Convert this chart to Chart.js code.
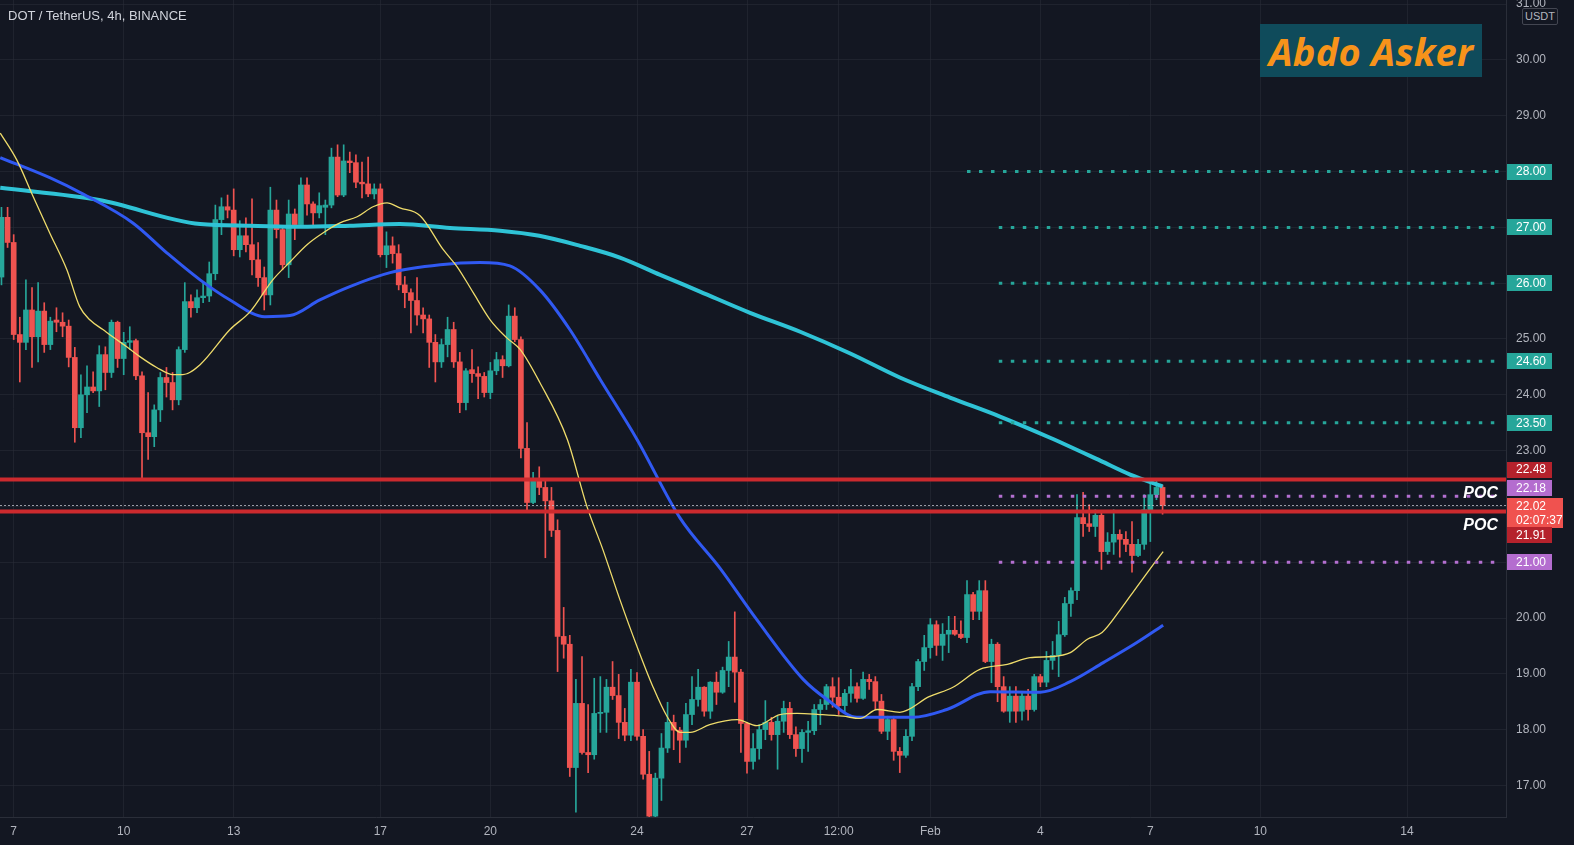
<!DOCTYPE html>
<html><head><meta charset="utf-8">
<script src="https://cdn.jsdelivr.net/npm/chart.js@4.4.0/dist/chart.umd.min.js"></script>
<style>
html,body{margin:0;padding:0;background:#131722;overflow:hidden;}
#wrap{position:relative;width:1574px;height:845px;}
canvas{display:block;}
#title{position:absolute;left:8px;top:8px;font:13px "Liberation Sans",Arial,sans-serif;color:#d1d4dc;white-space:nowrap;}
#logo{position:absolute;left:1260px;top:24px;width:222px;height:53px;background:#0f4b5b;color:#f7931a;font:italic 700 38px "Open Sans",sans-serif;display:flex;align-items:center;justify-content:center;white-space:nowrap;letter-spacing:0.3px;}
#usdt{position:absolute;left:1522px;top:8px;width:34px;height:15px;border:1px solid #434651;background:#131722;color:#b2b5be;font:11px "Liberation Sans",Arial,sans-serif;line-height:15px;text-align:center;border-radius:2px;}
</style></head>
<body>
<div id="wrap">
<canvas id="c" width="1574" height="845"></canvas>
<div id="title">DOT / TetherUS, 4h, BINANCE</div>
<div id="logo">Abdo Asker</div>
<div id="usdt">USDT</div>
</div>
<script>
// ---- data (candle index 0 = Jan 7 00:00, one candle = 4h) ----
const startIdx = -2;
const opens = [26.11,27.18,26.73,25.08,24.94,25.52,25.04,25.50,24.90,25.34,25.30,25.23,24.67,23.41,24.00,24.14,24.07,24.72,24.40,25.30,24.65,24.94,24.97,24.34,23.32,23.25,23.73,24.31,24.22,23.91,24.81,25.67,25.56,25.74,25.77,26.17,27.14,27.37,27.31,26.60,26.85,26.69,26.42,26.10,25.79,27.31,26.96,26.33,27.24,27.05,27.76,27.42,27.26,27.36,27.40,28.26,27.58,28.19,28.16,27.81,27.78,27.60,27.69,26.51,26.67,26.53,25.97,25.83,25.69,25.43,25.36,24.94,24.59,24.90,25.17,24.59,23.86,24.45,24.38,24.33,24.04,24.43,24.63,24.52,25.41,24.99,23.04,22.07,22.50,22.34,22.10,21.57,19.67,19.53,17.32,18.47,17.59,17.55,18.29,18.31,18.76,18.61,18.13,17.90,18.85,17.88,17.20,16.45,17.13,17.67,18.13,17.99,17.81,18.27,18.54,18.76,18.33,18.85,18.67,19.06,19.30,19.03,18.11,17.43,17.66,18.00,18.13,17.91,18.15,18.38,17.91,17.66,17.95,17.98,18.36,18.45,18.77,18.58,18.43,18.65,18.77,18.56,18.90,18.86,18.51,17.97,18.18,17.61,17.54,17.88,18.77,19.22,19.47,19.88,19.51,19.71,19.78,19.71,19.65,20.42,20.12,20.49,19.22,19.53,18.77,18.33,18.60,18.33,18.60,18.36,18.95,18.85,19.24,19.33,19.70,20.26,20.49,21.80,21.69,21.64,21.84,21.19,21.36,21.50,21.41,21.32,21.12,21.32,21.94,22.21,22.34];
const highs = [27.36,27.36,26.87,25.39,26.06,25.92,26.01,25.65,25.39,25.56,25.47,25.34,24.85,24.36,24.52,24.41,24.88,24.86,25.34,25.32,25.12,25.22,25.00,24.41,24.04,23.82,24.40,24.49,24.40,24.86,26.01,25.79,25.88,26.01,26.38,27.40,27.53,27.58,27.69,27.12,27.17,27.51,26.73,26.29,27.72,27.49,27.00,27.49,27.33,27.89,27.89,27.46,27.62,27.49,28.42,28.48,28.48,28.35,28.30,28.17,28.26,27.78,27.78,26.92,26.83,26.69,26.12,25.90,26.10,25.56,25.43,25.08,25.00,25.39,25.30,24.76,24.47,24.81,24.50,24.40,24.58,24.76,24.70,25.61,25.56,25.04,23.50,22.61,22.71,22.50,22.34,21.76,20.19,19.69,18.90,19.31,18.45,18.92,18.95,18.90,19.22,18.99,18.38,19.08,19.02,18.00,17.61,17.22,17.93,18.49,18.26,18.04,18.47,18.95,19.08,18.77,18.86,19.03,19.12,19.58,20.11,19.08,18.13,17.93,18.09,18.52,18.22,18.24,18.51,18.49,18.05,18.00,18.15,18.45,18.54,18.81,18.93,18.93,18.72,19.08,18.84,19.03,18.99,18.95,18.63,18.24,18.24,17.68,18.00,18.83,19.26,19.69,19.99,19.95,19.90,20.03,20.03,19.95,20.67,20.46,20.67,20.67,19.62,19.56,18.95,18.77,18.77,18.67,18.72,18.99,18.99,19.40,19.58,19.94,20.37,20.54,22.21,22.25,22.03,21.94,21.91,21.53,21.94,21.58,21.55,21.73,21.41,22.21,22.45,22.46,22.38];
const lows = [25.97,26.64,24.99,24.23,24.81,24.49,24.59,24.76,24.81,25.13,25.04,24.50,23.15,23.23,23.68,24.04,23.79,24.09,24.31,24.49,24.36,24.81,24.27,22.46,22.84,23.07,23.52,23.96,23.73,23.82,24.76,25.39,25.47,25.65,25.67,26.06,26.87,27.17,26.49,26.47,26.56,26.15,25.94,25.52,25.61,26.81,26.24,26.10,26.78,27.01,27.22,27.05,27.17,26.87,27.35,27.55,27.55,27.98,27.71,27.53,27.55,27.51,26.47,26.28,26.36,25.88,25.56,25.11,25.25,25.11,24.49,24.23,24.49,24.68,24.49,23.68,23.73,24.22,23.93,23.96,23.93,24.36,24.31,24.50,24.95,22.87,21.89,22.05,22.21,21.08,21.46,19.04,19.28,17.16,16.52,17.56,17.23,17.47,17.95,17.95,18.54,17.84,17.80,17.80,17.81,17.11,16.43,16.43,16.73,17.59,17.64,17.41,17.68,18.09,18.42,18.24,18.20,18.45,18.65,18.77,18.49,17.59,17.22,17.29,17.47,17.82,17.81,17.29,17.95,17.84,17.52,17.41,17.61,17.91,18.09,18.36,18.40,18.27,18.31,18.49,18.49,18.54,18.72,18.36,17.93,17.82,17.45,17.23,17.50,17.80,18.70,19.06,19.28,19.33,19.24,19.38,19.69,19.63,19.56,19.97,19.97,19.20,18.84,18.50,18.31,18.13,18.13,18.17,18.17,18.33,18.77,18.77,19.08,18.95,19.67,20.03,20.33,21.46,21.55,21.46,20.87,21.14,21.14,21.09,21.19,20.82,21.10,21.23,21.37,22.12,21.86];
const closes = [27.18,26.73,25.08,24.94,25.52,25.04,25.50,24.90,25.32,25.30,25.23,24.67,23.41,24.00,24.14,24.07,24.72,24.40,25.30,24.65,24.94,24.97,24.34,23.32,23.25,23.73,24.31,24.22,23.91,24.81,25.67,25.56,25.74,25.77,26.17,27.14,27.37,27.31,26.60,26.85,26.69,26.42,26.10,25.79,27.31,26.96,26.33,27.24,27.05,27.76,27.42,27.26,27.39,27.40,28.26,27.58,28.19,28.16,27.81,27.78,27.60,27.69,26.51,26.67,26.53,25.97,25.83,25.69,25.43,25.36,24.94,24.59,24.90,25.17,24.59,23.86,24.43,24.38,24.33,24.04,24.43,24.63,24.52,25.41,24.99,23.04,22.07,22.50,22.34,22.10,21.57,19.67,19.53,17.32,18.47,17.59,17.55,18.29,18.31,18.76,18.61,18.13,17.90,18.85,17.88,17.20,16.45,17.13,17.67,18.13,17.99,17.81,18.27,18.54,18.76,18.33,18.85,18.67,19.06,19.30,19.03,18.11,17.43,17.66,18.00,18.13,17.91,18.15,18.38,17.91,17.66,17.95,17.98,18.36,18.45,18.77,18.58,18.43,18.65,18.77,18.56,18.90,18.86,18.51,17.97,18.18,17.61,17.54,17.88,18.77,19.22,19.47,19.88,19.51,19.71,19.78,19.71,19.65,20.42,20.12,20.49,19.22,19.53,18.77,18.33,18.60,18.33,18.60,18.36,18.95,18.85,19.24,19.33,19.70,20.26,20.49,21.80,21.69,21.64,21.84,21.19,21.36,21.50,21.41,21.32,21.12,21.32,21.94,22.21,22.34,22.02];

// moving averages (candle index, price)
const maSlowX = [-2.2,14,30.5,38.7,46.9,55,63.2,71.4,79.6,86,92.7,99.2,105.8,112.3,120.5,128.7,136.9,145,153.2,161.4,169.6,177.8,182.7,188];
const maSlowY = [27.71,27.49,27.06,27.03,27.01,27.03,27.06,26.99,26.94,26.85,26.67,26.46,26.15,25.85,25.47,25.13,24.74,24.31,23.95,23.61,23.23,22.82,22.57,22.36];
const maMidX = [-2.2,5.9,11.3,19.5,25.1,30.5,35.4,41.1,45.2,50.1,55,61.6,69.8,76.3,81.2,86.1,91,96,102,109,115.6,121.6,129.2,133.1,138,147.2,152.7,159.8,168,172.9,178.3,183.8,188.1];
const maMidY = [28.25,27.89,27.60,27.08,26.54,26.06,25.70,25.40,25.42,25.70,25.94,26.19,26.33,26.37,26.31,25.88,25.17,24.27,23.20,21.80,20.89,19.97,18.90,18.54,18.22,18.22,18.36,18.68,18.67,18.86,19.20,19.56,19.87];
const maFastX = [-2.2,0.5,3.2,5.9,8.7,10.8,12.5,14.6,16.2,18.5,20.7,23.4,26.1,27.7,30.5,35.4,38.7,42.4,45.2,48,50.6,53.4,56.2,58.8,61.1,63.2,66.5,70.3,72.6,75.2,78,80.7,82.9,86.1,90.6,93.8,96.4,99.2,102,104.6,106.9,109.1,110.7,113.9,118.4,121.6,125.4,128.2,131.9,135.7,138.5,141.3,145,149.8,153.7,158.1,162.6,166.3,170.1,172.9,175.7,178.1,181.1,183.8,186.5,188.1];
const maFastY = [28.69,28.21,27.55,26.90,26.24,25.58,25.34,25.17,25.04,24.86,24.68,24.49,24.36,24.36,24.54,25.17,25.49,26.06,26.38,26.69,26.90,27.08,27.19,27.37,27.44,27.35,27.21,26.60,26.29,25.83,25.34,25.02,24.81,24.22,23.20,22.00,21.23,20.33,19.49,18.77,18.24,17.95,17.95,18.09,18.18,18.07,18.27,18.29,18.27,18.24,18.20,18.36,18.31,18.59,18.76,19.08,19.17,19.29,19.31,19.38,19.62,19.74,20.15,20.56,20.96,21.19];

// horizontal levels
const redLevels = [22.48, 21.91];
const tealLevels = [28.00, 27.00, 26.00, 24.60, 23.50];
const tealStart = [156, 161.2, 161.2, 161.2, 161.2];
const pocLevels = [22.18, 21.00];
const pocStart = [161.2, 161.2];
const lastPrice = 22.02;
const countdown = '02:07:37';

// axis ticks
const xTickVals = [0,18,36,60,78,102,120,135,150,168,186,204,228];
const xTickText = ['7','10','13','17','20','24','27','12:00','Feb','4','7','10','14'];
const yTickVals = [17,18,19,20,21,22,23,24,25,26,27,28,29,30,31];

// ---- build ----
const GREEN = '#26a69a', RED = '#ef5350';
const idx = opens.map((_, k) => startIdx + k);
const up = idx.map((_, k) => closes[k] >= opens[k]);
const candleCol = up.map(u => u ? GREEN : RED);
const wickData = idx.map((x, k) => ({x: x, y: [lows[k], highs[k]]}));
const bodyData = idx.map((x, k) => ({x: x, y: [opens[k], closes[k]]}));
const pts = (xs, ys) => xs.map((x, k) => ({x: x, y: ys[k]}));

const FONT = '"Liberation Sans", Arial, sans-serif';
const GRID = 'rgba(42,46,57,0.55)';

const overlay = {
  id: 'overlay',
  beforeDraw(chart) {
    const c = chart.ctx;
    c.save(); c.fillStyle = '#131722'; c.fillRect(0, 0, chart.width, chart.height); c.restore();
  },
  afterDatasetsDraw(chart) {
    const c = chart.ctx, xs = chart.scales.x, ys = chart.scales.y, a = chart.chartArea;
    c.save();
    c.beginPath(); c.rect(a.left, a.top, a.right - a.left, a.bottom - a.top); c.clip();
    // current price dotted line
    c.strokeStyle = 'rgba(200,202,210,0.75)'; c.lineWidth = 1; c.setLineDash([2, 2]);
    let yy = Math.round(ys.getPixelForValue(lastPrice)) + 0.5;
    c.beginPath(); c.moveTo(a.left, yy); c.lineTo(a.right, yy); c.stroke();
    // red levels
    c.setLineDash([]); c.strokeStyle = '#cc2a2e'; c.lineWidth = 4;
    redLevels.forEach(v => { const y = ys.getPixelForValue(v); c.beginPath(); c.moveTo(a.left, y); c.lineTo(a.right, y); c.stroke(); });
    // teal dotted levels
    c.lineWidth = 3; c.setLineDash([3.5, 8.5]); c.strokeStyle = '#26a69a';
    tealLevels.forEach((v, k) => { const y = ys.getPixelForValue(v); c.beginPath(); c.moveTo(xs.getPixelForValue(tealStart[k]), y); c.lineTo(a.right - 6, y); c.stroke(); });
    c.strokeStyle = '#b36fd0';
    pocLevels.forEach((v, k) => { const y = ys.getPixelForValue(v); c.beginPath(); c.moveTo(xs.getPixelForValue(pocStart[k]), y); c.lineTo(a.right - 6, y); c.stroke(); });
    c.setLineDash([]);
    // POC texts
    c.fillStyle = '#ffffff'; c.font = 'italic bold 16px ' + FONT; c.textAlign = 'right'; c.textBaseline = 'alphabetic';
    c.fillText('POC', a.right - 8, ys.getPixelForValue(pocLevels[0]) + 2);
    c.fillText('POC', a.right - 8, ys.getPixelForValue(redLevels[1]) + 19);
    c.restore();
  },
  afterDraw(chart) {
    const c = chart.ctx, ys = chart.scales.y, a = chart.chartArea;
    const boxes = [];
    tealLevels.forEach(v => boxes.push({v: v, bg: '#26a69a', dy: 0}));
    boxes.push({v: redLevels[0], bg: '#b5222c', dy: -10});
    boxes.push({v: pocLevels[0], bg: '#b46dcf', dy: -8});
    boxes.push({v: lastPrice, bg: '#f0524f', dy: 8, sub: countdown});
    boxes.push({v: redLevels[1], bg: '#b5222c', dy: 24});
    boxes.push({v: pocLevels[1], bg: '#b46dcf', dy: 0});
    c.save();
    c.font = '12px ' + FONT; c.textBaseline = 'middle'; c.textAlign = 'left';
    boxes.forEach(b => {
      const cy = ys.getPixelForValue(b.v) + b.dy;
      const h = b.sub ? 30 : 16, w = b.sub ? 56 : 45;
      c.fillStyle = b.bg;
      c.fillRect(a.right + 1, Math.round(cy - h / 2), w, h);
      c.fillStyle = '#ffffff';
      if (b.sub) {
        c.fillText(b.v.toFixed(2), a.right + 10, cy - 7);
        c.fillText(b.sub, a.right + 10, cy + 7);
      } else {
        c.fillText(b.v.toFixed(2), a.right + 10, cy + 0.5);
      }
    });
    c.restore();
  }
};

new Chart(document.getElementById('c'), {
  type: 'bar',
  data: {
    datasets: [
      {type: 'line', data: pts(maFastX, maFastY), borderColor: '#efdc6b', borderWidth: 1.3, pointRadius: 0, cubicInterpolationMode: 'monotone', order: 0},
      {type: 'line', data: pts(maMidX, maMidY), borderColor: '#3059f2', borderWidth: 3, pointRadius: 0, cubicInterpolationMode: 'monotone', order: 0},
      {type: 'line', data: pts(maSlowX, maSlowY), borderColor: '#2fc3d6', borderWidth: 4, pointRadius: 0, cubicInterpolationMode: 'monotone', order: 0},
      {data: bodyData, backgroundColor: candleCol, barThickness: 5, grouped: false, minBarLength: 1, order: 2},
      {data: wickData, backgroundColor: candleCol, barThickness: 1, grouped: false, order: 3}
    ]
  },
  options: {
    responsive: false, animation: false, devicePixelRatio: 1,
    layout: {padding: 0},
    plugins: {legend: {display: false}, tooltip: {enabled: false}},
    events: [],
    scales: {
      x: {
        type: 'linear', min: -2.24, max: 244.2, offset: false,
        grid: {color: GRID, drawTicks: false, offset: false},
        border: {color: '#2a2e39'},
        afterBuildTicks: s => { s.ticks = xTickVals.map(v => ({value: v})); },
        afterFit: s => { s.height = 28; s.paddingLeft = 0; s.paddingRight = 0; },
        ticks: {color: '#b2b5be', font: {size: 12, family: FONT}, padding: 7, maxRotation: 0, autoSkip: false,
          callback: v => { const k = xTickVals.indexOf(v); return k >= 0 ? xTickText[k] : ''; }}
      },
      y: {
        type: 'linear', position: 'right', min: 16.434, max: 31.075,
        grid: {color: GRID, drawTicks: false},
        border: {color: '#2a2e39'},
        afterBuildTicks: s => { s.ticks = yTickVals.map(v => ({value: v})); },
        afterFit: s => { s.width = 68; s.paddingTop = 0; s.paddingBottom = 0; },
        ticks: {color: '#b2b5be', font: {size: 12, family: FONT}, padding: 10, callback: v => Number(v).toFixed(2)}
      }
    }
  },
  plugins: [overlay]
});
</script>
</body></html>
